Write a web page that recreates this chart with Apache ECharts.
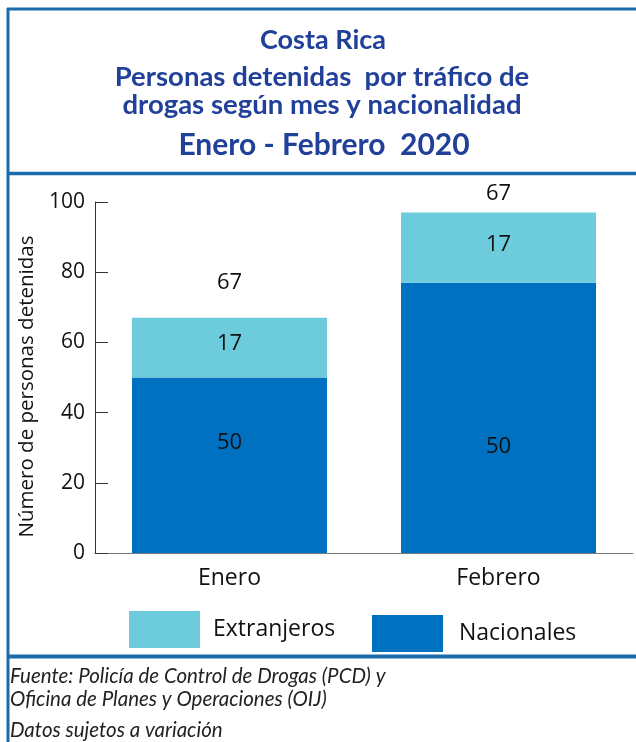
<!DOCTYPE html>
<html>
<head>
<meta charset="utf-8">
<script src="https://cdn.jsdelivr.net/npm/echarts@6/dist/echarts.min.js"></script>
<style>
html,body{margin:0;padding:0;background:#fff;}
#c{width:636px;height:742px;}
</style>
</head>
<body>
<div id="c"></div>
<script>
// ---- data ----
const categories = ['Enero', 'Febrero'];
const nacionales = [50, 77];
const extranjeros = [17, 20];
// labels as printed in the reference
const nacionalesLabels = ['50', '50'];
const extranjerosLabels = ['17', '17'];
const totalLabels = ['67', '67'];
const yTicks = [0, 20, 40, 60, 80, 100];
const titleLines = ['Costa Rica', 'Personas detenidas  por tráfico de', 'drogas según mes y nacionalidad', 'Enero - Febrero  2020'];
const footLines = ['Fuente: Policía de Control de Drogas (PCD) y', 'Oficina de Planes y Operaciones (OIJ)', 'Datos sujetos a variación'];

// ---- style config ----
const DARK = '#0070c0', LIGHT = '#6dccdc', FRAME = '#1b6bad', TITLE = '#21409a';
const nacOffsets = [[0, -23], [0, 29]];
const extOffsets = [[0, -4], [0, -3]];
const totOffsets = [[0, -35], [0, -19]];
const totals = nacionales.map((v, i) => v + extranjeros[i]);

const chart = echarts.init(document.getElementById('c'), null, {renderer: 'canvas'});
const bodyFont = 'Open Sans';

const option = {
  animation: false,
  backgroundColor: '#fff',
  grid: {left: 95, right: 3, top: 202, bottom: 189, containLabel: false},
  legend: [
    {data: ['Extranjeros'], left: 129, top: 611, padding: 0, itemWidth: 71, itemHeight: 37, icon: 'rect',
     textStyle: {fontSize: 23, color: '#111', fontFamily: bodyFont, padding: [0, 0, 0, 8]}},
    {data: ['Nacionales'], left: 372, top: 615, padding: 0, itemWidth: 71, itemHeight: 37, icon: 'rect',
     textStyle: {fontSize: 23, color: '#111', fontFamily: bodyFont, padding: [0, 0, 0, 11]}}
  ],
  xAxis: {
    type: 'category', data: categories,
    axisLine: {lineStyle: {color: '#777', width: 1}},
    axisTick: {inside: true, length: 9, lineStyle: {color: '#555'}},
    axisLabel: {fontSize: 23, color: '#111', fontFamily: bodyFont, margin: 14}
  },
  yAxis: {
    type: 'value', min: 0, max: 100, interval: 20,
    name: 'Número de personas detenidas', nameLocation: 'middle', nameGap: 55,
    nameTextStyle: {fontSize: 20.5, color: '#111', fontFamily: bodyFont, padding: [0, 18, 0, 0]},
    axisLine: {show: true, lineStyle: {color: '#333', width: 1}},
    axisTick: {show: true, inside: true, length: 13, lineStyle: {color: '#333'}},
    axisLabel: {fontSize: 21, color: '#111', fontFamily: bodyFont, margin: 10,
      formatter: v => yTicks.includes(v) ? String(v) : ''},
    splitLine: {show: false}
  },
  series: [
    {name: 'Nacionales', type: 'bar', stack: 't', barCategoryGap: '27.5%',
     itemStyle: {color: DARK},
     data: nacionales.map((v, i) => ({value: v, label: {offset: nacOffsets[i]}})),
     label: {show: true, position: 'inside', fontSize: 22, color: '#111', fontFamily: bodyFont,
       formatter: p => nacionalesLabels[p.dataIndex]}},
    {name: 'Extranjeros', type: 'bar', stack: 't',
     itemStyle: {color: LIGHT},
     data: extranjeros.map((v, i) => ({value: v, label: {offset: extOffsets[i]}})),
     label: {show: true, position: 'inside', fontSize: 22, color: '#111', fontFamily: bodyFont,
       formatter: p => extranjerosLabels[p.dataIndex]}},
    {name: 'Total', type: 'scatter', symbolSize: 1, silent: true,
     itemStyle: {color: 'rgba(0,0,0,0)', opacity: 1},
     data: totals.map((v, i) => ({value: v, label: {offset: totOffsets[i]}})),
     label: {show: true, position: 'inside', fontSize: 22, color: '#111', opacity: 1, fontFamily: bodyFont,
       formatter: p => totalLabels[p.dataIndex]}}
  ],
  graphic: [
    {type: 'line', shape: {x1: 7, y1: 9, x2: 636, y2: 9}, style: {stroke: FRAME, lineWidth: 3}, z: 10},
    {type: 'line', shape: {x1: 8, y1: 8, x2: 8, y2: 742}, style: {stroke: FRAME, lineWidth: 3}, z: 10},
    {type: 'line', shape: {x1: 7, y1: 173.5, x2: 636, y2: 173.5}, style: {stroke: FRAME, lineWidth: 3.5}, z: 10},
    {type: 'line', shape: {x1: 7, y1: 656.5, x2: 636, y2: 656.5}, style: {stroke: FRAME, lineWidth: 4}, z: 10},
    {type: 'text', x: 323, y: 40, style: {text: titleLines[0], fill: TITLE, font: 'bold 27px Lato', textAlign: 'center', textVerticalAlign: 'middle'}},
    {type: 'text', x: 322, y: 77, style: {text: titleLines[1], fill: TITLE, font: 'bold 27.5px Lato', textAlign: 'center', textVerticalAlign: 'middle'}},
    {type: 'text', x: 322, y: 105, style: {text: titleLines[2], fill: TITLE, font: 'bold 27.5px Lato', textAlign: 'center', textVerticalAlign: 'middle'}},
    {type: 'text', x: 324, y: 145, style: {text: titleLines[3], fill: TITLE, font: 'bold 30px Lato', textAlign: 'center', textVerticalAlign: 'middle'}},
    {type: 'text', x: 10, y: 676, style: {text: footLines[0], fill: '#222', font: 'italic 20.5px Lato', textVerticalAlign: 'middle'}},
    {type: 'text', x: 10, y: 699, style: {text: footLines[1], fill: '#222', font: 'italic 20.5px Lato', textVerticalAlign: 'middle'}},
    {type: 'text', x: 10, y: 730, style: {text: footLines[2], fill: '#222', font: 'italic 20.5px Lato', textVerticalAlign: 'middle'}}
  ]
};
chart.setOption(option);
</script>
</body>
</html>
